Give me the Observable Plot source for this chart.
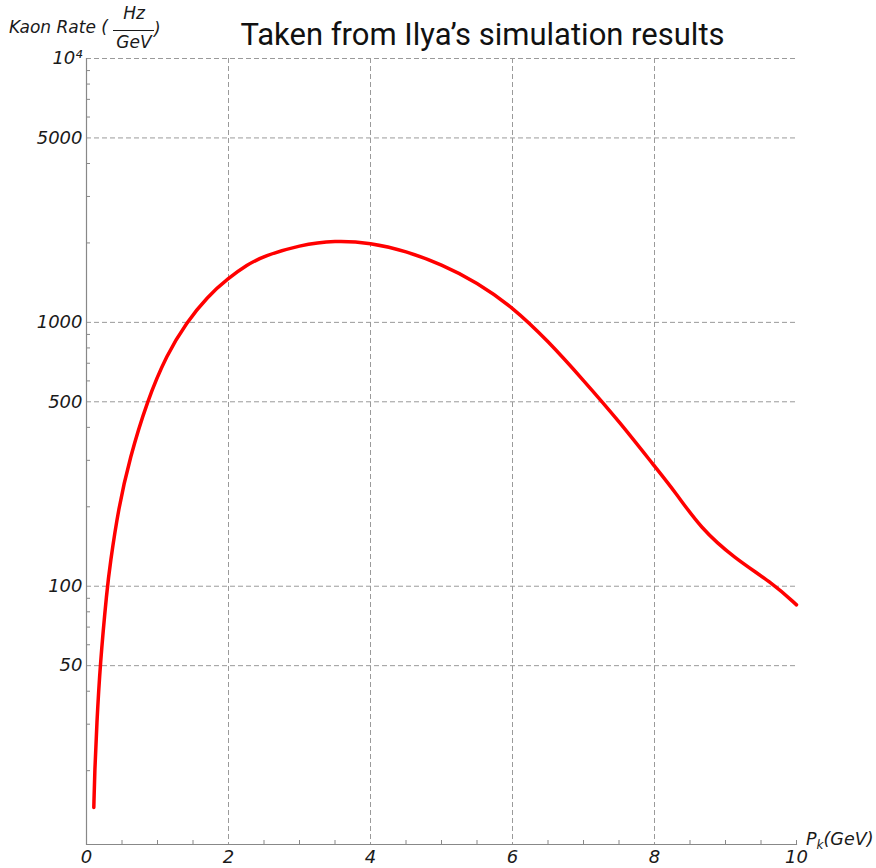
<!DOCTYPE html>
<html>
<head>
<meta charset="utf-8">
<script src="https://cdn.jsdelivr.net/npm/d3@7"></script>
<script src="https://cdn.jsdelivr.net/npm/@observablehq/plot@0.6"></script>
<style>
  html, body { margin: 0; padding: 0; background: white; }
  #wrap { position: relative; width: 876px; height: 868px; overflow: hidden; }
  #chart svg { display: block; }
  #title { position: absolute; left: 0; width: 965px; top: 17px; text-align: center;
           font-family: Roboto, "Open Sans", sans-serif; font-size: 31px; line-height: 36px; color: #111; white-space: nowrap; }
  #overlay { position: absolute; left: 0; top: 0; pointer-events: none; }
</style>
</head>
<body>
<div id="wrap">
  <div id="chart"></div>
  <div id="title">Taken from Ilya’s simulation results</div>
  <svg id="overlay" width="876" height="868" font-family="DejaVu Sans" font-style="italic" fill="#1a1a1a">
    <text x="9" y="33" font-size="17">Kaon Rate (</text>
    <text x="134" y="19" font-size="17" text-anchor="middle">Hz</text>
    <line x1="113" x2="154" y1="30.5" y2="30.5" stroke="#1a1a1a" stroke-width="1"></line>
    <text x="134" y="48" font-size="17" text-anchor="middle">GeV</text>
    <text x="154" y="35" font-size="17">)</text>
    <text x="806" y="845" font-size="17.5">P<tspan font-size="12" dy="4">k</tspan><tspan dy="-4">(GeV)</tspan></text>
  </svg>
</div>
<script>
// Momentum P_k (GeV)
const pk = [0.103, 0.116, 0.145, 0.19, 0.29, 0.33, 0.45, 0.61, 0.85, 1.13, 1.41, 1.7, 2.0, 2.26, 2.5, 3.0, 3.5, 4.0, 4.5, 5.0, 5.5, 6.0, 6.5, 7.0, 7.5, 8.0, 8.3, 8.65, 9.12, 9.68, 10.0];
// Kaon rate (Hz/GeV)
const rate = [14.5, 20, 30, 50, 98, 120, 198, 306, 500, 755, 1000, 1250, 1472, 1652, 1786, 1963, 2046, 2004, 1862, 1660, 1419, 1143, 851, 603, 422, 285, 226, 166, 128, 102, 85];

const xLabels = [0, 2, 4, 6, 8, 10];
const xGrid = [2, 4, 6, 8];
const xMinor = [0.5, 1, 1.5, 2.5, 3, 3.5, 4.5, 5, 5.5, 6.5, 7, 7.5, 8.5, 9, 9.5, 10];
const yLabels = [50, 100, 500, 1000, 5000, 10000];
const yMinor = [20, 30, 40, 60, 70, 80, 90, 200, 300, 400, 600, 700, 800, 900, 2000, 3000, 4000, 6000, 7000, 8000, 9000];
const yDomain = [10.5, 10000];

const data = pk.map((x, i) => ({pk: x, rate: rate[i]}));

const gridStyle = {stroke: "#9a9a9a", strokeOpacity: 1, strokeDasharray: "5,3", strokeWidth: 1};
const textColor = "#1a1a1a";

const chart = Plot.plot({
  width: 876,
  height: 868,
  marginLeft: 86,
  marginRight: 80,
  marginTop: 58,
  marginBottom: 24,
  x: {domain: [0, 10], axis: null},
  y: {type: "log", domain: yDomain, axis: null},
  style: {fontFamily: "DejaVu Sans", background: "white", overflow: "visible"},
  marks: [
    Plot.gridX(xGrid, gridStyle),
    Plot.gridY(yLabels, gridStyle),
    Plot.axisX(xMinor, {anchor: "bottom", label: null, tickSize: 4, dy: -4, stroke: "#888", strokeOpacity: 1, tickFormat: () => ""}),
    Plot.axisY(yMinor, {anchor: "left", label: null, tickSize: 4, dx: 4, stroke: "#888", strokeOpacity: 1, tickFormat: () => ""}),
    Plot.ruleX([0], {stroke: "#888", strokeWidth: 1.2}),
    Plot.frame({anchor: "bottom", stroke: "#888", strokeWidth: 1.2}),
    Plot.axisX(xLabels, {anchor: "bottom", label: null, tickSize: 0, tickPadding: 6, fontSize: 18, fontStyle: "italic", fill: textColor, tickFormat: d => String(d)}),
    Plot.axisY(yLabels, {anchor: "left", label: null, tickSize: 0, tickPadding: 4, fontSize: 18, fontStyle: "italic", fill: textColor, tickFormat: d => d === 10000 ? "10⁴" : String(d)}),
    Plot.line(data, {x: "pk", y: "rate", stroke: "#ff0000", strokeWidth: 3.5, curve: "basis"})
  ]
});
document.getElementById("chart").appendChild(chart);
</script>
</body>
</html>
